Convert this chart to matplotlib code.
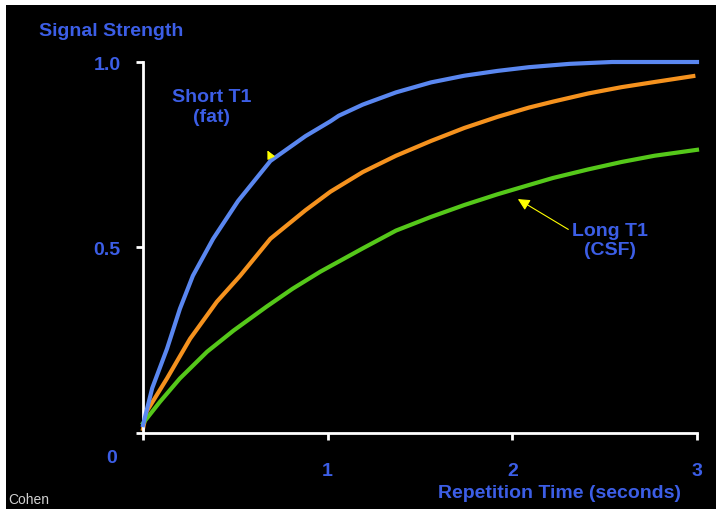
import matplotlib
matplotlib.use("Agg")
import matplotlib.pyplot as plt
from matplotlib.patches import Rectangle

# ------------------------------------------------------------------ #
# Data
# ------------------------------------------------------------------ #
short_t = [0.0, 0.05, 0.13, 0.2, 0.27, 0.38, 0.515, 0.69, 0.88, 1.015, 1.06,
           1.19, 1.37, 1.56, 1.74, 1.92, 2.09, 2.31, 2.54, 3.0]
short_v = [0.02, 0.12, 0.226, 0.334, 0.423, 0.523, 0.625, 0.733, 0.80, 0.84, 0.855,
           0.885, 0.918, 0.945, 0.963, 0.976, 0.986, 0.995, 1.0, 1.0]

mid_t = [0.0, 0.02, 0.13, 0.255, 0.4, 0.526, 0.69, 0.88, 1.015, 1.19,
         1.37, 1.56, 1.74, 1.92, 2.09, 2.22, 2.41, 2.59, 2.77, 2.98]
mid_v = [0.01, 0.057, 0.146, 0.253, 0.353, 0.423, 0.523, 0.600, 0.65, 0.703,
         0.747, 0.787, 0.822, 0.852, 0.877, 0.893, 0.915, 0.932, 0.946, 0.962]

long_t = [0.0, 0.092, 0.2, 0.347, 0.49, 0.67, 0.81, 0.96, 1.19, 1.37,
          1.56, 1.74, 1.92, 2.09, 2.22, 2.41, 2.59, 2.77, 3.0]
long_v = [0.025, 0.083, 0.146, 0.218, 0.275, 0.34, 0.388, 0.434, 0.497, 0.545,
          0.582, 0.614, 0.643, 0.668, 0.687, 0.71, 0.73, 0.747, 0.763]

x_ticks = [1, 2, 3]
x_labels = ["1", "2", "3"]
y_ticks = [0.5, 1.0]
y_labels = ["0.5", "1.0"]

# ------------------------------------------------------------------ #
# Styling
# ------------------------------------------------------------------ #
W, H = 716, 510
TXT = "#3c5ee6"
FONT = "Liberation Sans"
FS = 14

fig = plt.figure(figsize=(W / 100, H / 100), dpi=100, facecolor="white")
# black panel (white strip left + top like the scan)
fig.patches.append(Rectangle((6 / W, 0), (W - 6) / W, (H - 6) / H,
                             transform=fig.transFigure, facecolor="black",
                             edgecolor="none", zorder=-10))

ax = fig.add_axes([143 / W, (H - 433.5) / H, (697 - 143) / W, (433.5 - 63) / H])
ax.set_zorder(5)
ax.set_facecolor("none")
ax.set_xlim(0, 3)
ax.set_ylim(0, 1)

ax.plot(short_t, short_v, color="#5a87f0", lw=3, clip_on=False, zorder=3)
ax.plot(mid_t, mid_v, color="#f5921e", lw=3, clip_on=False, zorder=2)
ax.plot(long_t, long_v, color="#55c81a", lw=3, clip_on=False, zorder=2)

for s in ["top", "right"]:
    ax.spines[s].set_visible(False)
for s in ["left", "bottom"]:
    ax.spines[s].set_color("white")
    ax.spines[s].set_linewidth(2)
ax.spines["left"].set_bounds(0, 1)
ax.spines["bottom"].set_bounds(0, 3)

ax.set_xticks([0] + x_ticks)
ax.set_xticklabels([""] + x_labels)
ax.set_yticks([0] + y_ticks)
ax.set_yticklabels([""] + y_labels)
ax.tick_params(colors="white", width=2, length=5)
ax.tick_params(axis="x", pad=16)
ax.tick_params(axis="y", pad=11)
for lab in ax.get_xticklabels() + ax.get_yticklabels():
    lab.set_color(TXT)
    lab.set_fontsize(FS)
    lab.set_fontweight("bold")
    lab.set_fontfamily(FONT)

txt_kw = dict(color=TXT, fontsize=FS, fontweight="bold", family=FONT)

# origin label and axis titles (figure pixel positions)
fig.text(112 / W, 1 - 459 / H, "0", ha="center", va="center", **txt_kw)
fig.text(111 / W, 1 - 31 / H, "Signal Strength", ha="center", va="center", **txt_kw)
fig.text(560 / W, 1 - 494 / H, "Repetition Time (seconds)", ha="center",
         va="center", **txt_kw)
fig.text(8 / W, 1 - 500 / H, "Cohen", ha="left", va="center",
         color="#d0d0d0", fontsize=10, family=FONT)

# curve labels with yellow arrows
ax.annotate("Short T1\n(fat)", xy=(0.667, 0.768), xytext=(0.37, 0.88),
            ha="center", va="center", linespacing=1.2, **txt_kw)
ax.annotate("", xy=(0.667, 0.768), xytext=(0.69, 0.745),
            arrowprops=dict(arrowstyle="-|>,head_length=0.5,head_width=0.25",
                            color="#ffff00", lw=0.8))
ax.annotate("Long T1\n(CSF)", xy=(2.03, 0.63), xytext=(2.53, 0.52),
            ha="center", va="center", linespacing=1.2,
            arrowprops=dict(arrowstyle="-|>,head_length=0.5,head_width=0.25",
                            color="#ffff00", lw=0.8, shrinkA=1, shrinkB=0,
                            relpos=(0.0, 0.72)),
            **txt_kw)

fig.savefig("out.png", dpi=100, facecolor=fig.get_facecolor())
